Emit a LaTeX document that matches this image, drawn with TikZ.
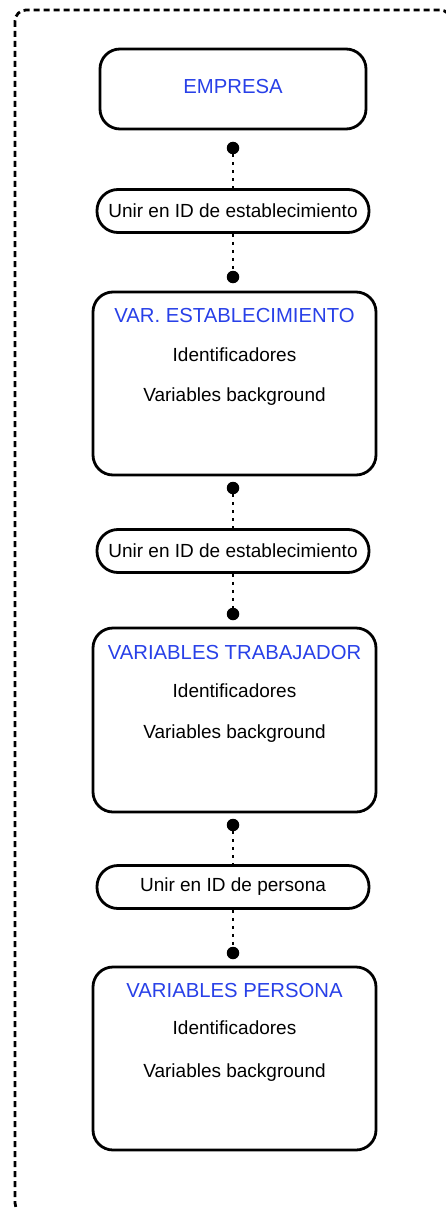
\documentclass[tikz,border=0pt]{standalone}
\usepackage{fontspec}
\setmainfont{Liberation Sans}
\definecolor{titleblue}{RGB}{40,64,232}
\begin{document}
\begin{tikzpicture}[x=1pt,y=-1pt,
  bigbox/.style={draw=black,line width=2.8pt,rounded corners=20pt,fill=white},
  pillbox/.style={draw=black,line width=2.8pt,rounded corners=21pt,fill=white,
    minimum width=272pt,minimum height=43pt,inner sep=0pt,
    font=\fontsize{19}{22}\selectfont},
  joindot/.style={circle,fill=black,inner sep=0pt,minimum size=12.5pt},
  dotline/.style={line width=2.6pt,dash pattern=on 2.6pt off 5.4pt},
  ttl/.style={text=titleblue,font=\fontsize{20.3}{24}\selectfont},
  body/.style={text=black,font=\fontsize{19}{22}\selectfont}]
\useasboundingbox (0,0) rectangle (446,1209);
\begin{scope}
\clip (0,0) rectangle (446,1209);
\draw[line width=2.8pt,dash pattern=on 6pt off 4pt,rounded corners=11pt] (15,10) rectangle (451,1214);
\end{scope}

% EMPRESA box
\draw[bigbox] (100,49) rectangle (366,129);
\node[ttl] (empresa) at (233,87) {EMPRESA};

\node[joindot] (d1) at (233,148) {};
\node[pillbox] (p1) at (233,211) {Unir en ID de establecimiento};
\node[joindot] (d2) at (233,277) {};

% box 2
\draw[bigbox] (93,292) rectangle (376,475);
\node[ttl] (t2) at (234.5,316) {VAR. ESTABLECIMIENTO};
\node[body] (i2) at (234.5,355) {Identificadores};
\node[body] (v2) at (234.5,397) {Variables background};

\node[joindot] (d3) at (233,488) {};
\node[pillbox] (p2) at (233,551) {Unir en ID de establecimiento};
\node[joindot] (d4) at (233,614) {};

% box 3
\draw[bigbox] (93,628) rectangle (376,812);
\node[ttl] (t3) at (234.5,653) {VARIABLES TRABAJADOR};
\node[body] (i3) at (234.5,691) {Identificadores};
\node[body] (v3) at (234.5,734) {Variables background};

\node[joindot] (d5) at (233,825) {};
\node[pillbox] (p3) at (233,887) {Unir en ID de persona};
\node[joindot] (d6) at (233,953) {};

% box 4
\draw[bigbox] (93,967) rectangle (376,1150);
\node[ttl] (t4) at (234.5,990) {VARIABLES PERSONA};
\node[body] (i4) at (234.5,1028) {Identificadores};
\node[body] (v4) at (234.5,1073) {Variables background};

% connectors
\draw[dotline] (d1) -- (p1.north);
\draw[dotline] (p1.south) -- (d2);
\draw[dotline] (d3) -- (p2.north);
\draw[dotline] (p2.south) -- (d4);
\draw[dotline] (d5) -- (p3.north);
\draw[dotline] (p3.south) -- (d6);
\end{tikzpicture}
\end{document}
